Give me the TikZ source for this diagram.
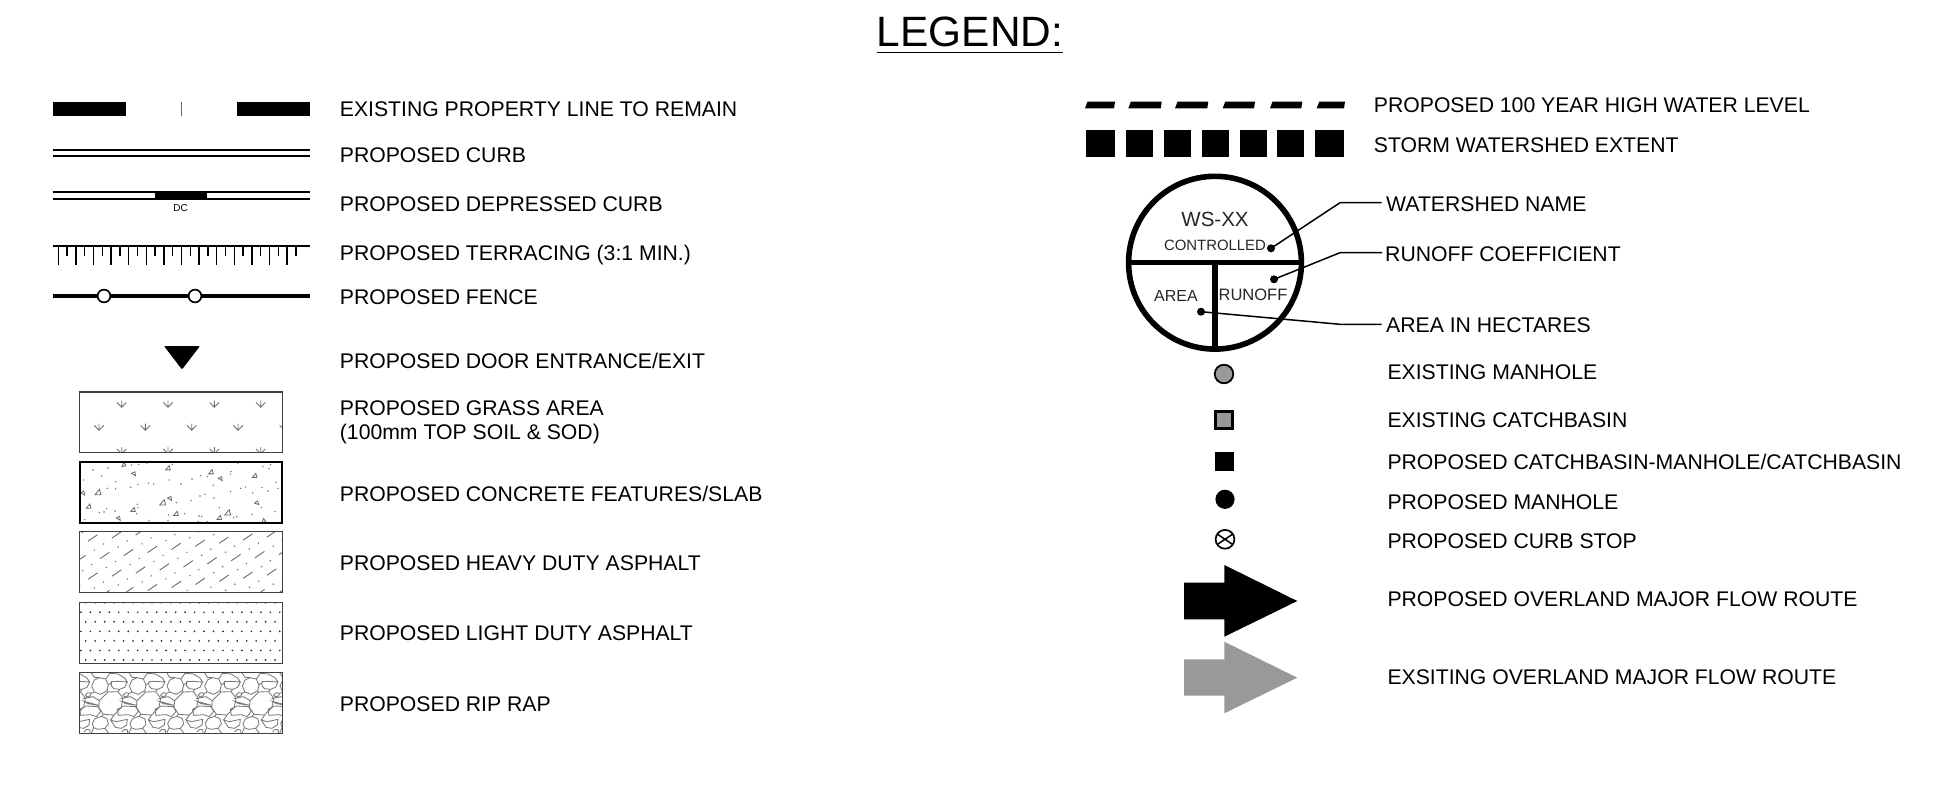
\documentclass[tikz,border=0pt]{standalone}
\usepackage{fontspec}
\setmainfont{Liberation Sans}
\definecolor{arrowgray}{HTML}{999999}
\definecolor{hatchgray}{HTML}{6A6A6A}
\definecolor{stonegray}{HTML}{7A7A7A}
\tikzset{
  lbl/.style={anchor=base west,inner sep=0pt,font=\fontsize{21.2}{25}\selectfont},
  leadlbl/.style={anchor=base west,inner ysep=0pt,inner xsep=4.3pt,font=\fontsize{21.2}{25}\selectfont},
  circtxt/.style={inner sep=0pt,text=black!85,font=\fontsize{16.5}{19}\selectfont},
  leaderdot/.style={circle,fill=black,inner sep=0pt,minimum size=8pt},
  leader/.style={line width=1.5pt},
  hatchbox/.style={draw=black!75,line width=1.2pt},
  fine/.style={draw=hatchgray,line width=0.8pt},
  finedot/.style={fill=hatchgray}
}
\begin{document}
\begin{tikzpicture}[x=1pt,y=-1pt]
\useasboundingbox (0,0) rectangle (1937,808);
% title
\node[anchor=base,inner sep=0pt,text depth=5pt,font=\fontsize{42.4}{48}\selectfont] (title) at (970,47) {LEGEND:};
\draw[line width=1.3pt] (title.south west) -- (title.south east);

% property line
\fill (52.7,102) rectangle (125.7,115.7);
\fill (236.7,102) rectangle (309.7,115.7);
\draw[black!60,line width=1pt] (181,102) -- (181,115.7);
% curb
\draw[line width=1.7pt] (52.7,150) -- (309.7,150) (52.7,156.3) -- (309.7,156.3);
% depressed curb
\draw[line width=1.7pt] (52.7,192.3) -- (309.7,192.3) (52.7,198.7) -- (309.7,198.7);
\fill (155,191.5) rectangle (207,199.5);
\node[inner sep=0pt,font=\fontsize{10}{12}\selectfont] (dc) at (180.5,207.7) {DC};
% terracing
\draw[line width=1.6pt] (52.7,245.7) -- (309.7,245.7);
\foreach \k in {0,...,13}{
  \draw[line width=1.5pt] ({58.3+17.6*\k},245.7) -- ({58.3+17.6*\k},265);
  \draw[line width=1.5pt] ({67.1+17.6*\k},245.7) -- ({67.1+17.6*\k},255.7);
}
% fence
\draw[line width=3.5pt] (52.7,296) -- (309.7,296);
\draw[line width=1.7pt,fill=white] (104,296) circle (6.4) (195,296) circle (6.4);
% door
\fill[rounded corners=1pt] (164,346) -- (200,346) -- (182,369.5) -- cycle;

% grass
\begin{scope}
\clip (79.7,392) rectangle (282.3,452.3);
\foreach \px/\py in {121.7/404,168/404,214.3/404,260.7/404,99/427,145.3/427,191.7/427,238/427,284.4/427,121.7/450.5,168/450.5,214.3/450.5,260.7/450.5}{
  \draw[draw=black!55,line width=0.9pt] (\px,\py-3.5) -- (\px,\py+3.2) (\px-4.7,\py-1.6) -- (\px,\py+3.2) -- (\px+4.7,\py-1.6);
}
\end{scope}
\draw[hatchbox] (79.7,392) rectangle (282.3,452.3);

% concrete
\begin{scope}[shift={(78,460)},x=0.3333pt,y=-0.3333pt]
\foreach \px/\py in {45/30,90/24,71/48,17/60,113/65,88/85,113/87,158/82,180/73,211/69,227/72,274/60,309/72,342/57,368/47,388/50,406/76,459/35,457/42,458/95,488/85,503/81,524/99,552/83,570/93,594/67,600/85,555/20,573/26,578/14,283/13,207/9,182/13,161/15,480/9,366/108,381/103,408/114,339/122,295/128,178/133,180/143,176/161,111/153,86/146,78/156,64/158,20/179,213/181,270/181,272/165,320/161,363/168,371/170,424/143,467/173,476/170,522/164,550/143,591/155,361/185,388/185}{
  \fill[finedot] (\px,\py) circle (2.4);
}
\foreach \px/\py/\r/\a in {137/14/6/10,167/42/6/100,270/24/7/0,399/36/7/0,427/57/6/100,530/47/7/0,14/100/6/100,60/97/9/0,32/139/7/0,165/149/7/0,121/176/6/100,254/128/9/0,275/116/6/100,294/161/7/0,424/173/7/0,449/158/9/0,536/130/6/110,556/182/6/20}{
  \draw[fine,rotate around={\a:(\px,\py)}] (\px-\r,\py+\r*0.8) -- (\px+\r,\py+\r*0.8) -- (\px+0.5*\r,\py-\r) -- cycle;
}
\end{scope}
\draw[line width=2.2pt] (79.7,461.7) rectangle (282.3,522.7);

% heavy asphalt
\begin{scope}
\clip (79.7,531.7) rectangle (282.3,592.7);
\foreach \i in {-4,...,9}{
  \foreach \j in {-2,...,4}{
    \coordinate (lat) at ({92.7+23.83*\i+12*\j},{538-3.07*\i+17.5*\j});
    \draw[fine,line width=0.9pt] ([shift={(-4.7,3.2)}]lat) -- ([shift={(4.7,-3.2)}]lat);
    \fill[finedot] ([shift={(10.7,6)}]lat) circle (0.8);
    \fill[finedot] ([shift={(1.7,12)}]lat) circle (0.8);
  }
}
\end{scope}
\draw[hatchbox] (79.7,531.7) rectangle (282.3,592.7);

% light asphalt
\begin{scope}
\clip (79.7,602.3) rectangle (282.3,663.3);
\foreach \r in {0,2,4,6}{
  \foreach \k in {0,...,21}{ \fill[black!85] ({85.7+9.47*\k},{602.7+9.55*\r}) circle (0.95); }
}
\foreach \r in {1,3,5}{
  \foreach \k in {0,...,21}{ \fill[black!85] ({80.9+9.47*\k},{602.7+9.55*\r}) circle (0.95); }
}
\end{scope}
\draw[hatchbox] (79.7,602.3) rectangle (282.3,663.3);

% rip rap
\begin{scope}
\clip (79.7,672.7) rectangle (282.3,733.3);
\foreach \i in {-1,...,5}{
\begin{scope}[shift={({78+37.67*\i},670)},x=0.3333pt,y=-0.3333pt]
  \draw[draw=stonegray,line width=0.85pt]
    (64,92) -- (90,66) -- (120,65) -- (135,84) -- (130,112) -- (108,135) -- (76,133) -- (62,112) -- cycle
    (41,48) -- (49,30) -- (65,23) -- (83,27) -- (91,45) -- (87,62) -- (68,73) -- (49,66) -- cycle
    (43,160) -- (51,146) -- (70,139) -- (87,146) -- (91,162) -- (81,175) -- (60,178) -- (47,173) -- cycle
    (100,35) -- (118,34) -- (148,36) -- (140,52) -- (125,58) -- (108,56) -- (100,48) -- cycle
    (40,8) -- (49,22) -- (65,23) (83,27) -- (95,10)
    (22,75) -- (30,68) -- (40,70) -- (36,78) -- (26,80) -- cycle
    (15,86) -- (45,80) -- (64,92) (62,106) -- (30,101) -- (18,94) -- cycle
    (5,118) -- (25,108) -- (60,110) -- (68,124) -- (55,140) -- (38,134) -- (8,136) -- cycle
    (98,150) -- (115,155) -- (148,148) -- (146,165) -- (130,175) -- (112,172) -- cycle
    (47,173) -- (40,190) (81,175) -- (92,190)
    (18,186) -- (26,178) -- (36,180) -- (36,190)
    (91,45) -- (100,38) (87,62) -- (90,66) (49,66) -- (40,70)
    (120,65) -- (125,58) (130,112) -- (118,120)
    (108,135) -- (98,150) (76,133) -- (70,139)
    (95,10) -- (120,12) -- (140,24) -- (148,36);
\end{scope}
}
\end{scope}
\draw[hatchbox] (79.7,672.7) rectangle (282.3,733.3);

% left labels
\node[lbl] (t1) at (339.7,116.2) {EXISTING PROPERTY LINE TO REMAIN};
\node[lbl] (t2) at (339.7,162.9) {PROPOSED CURB};
\node[lbl] (t3) at (339.7,211.3) {PROPOSED DEPRESSED CURB};
\node[lbl] (t4) at (339.7,260.1) {PROPOSED TERRACING (3:1 MIN.)};
\node[lbl] (t5) at (339.7,304) {PROPOSED FENCE};
\node[lbl] (t6) at (339.7,368.2) {PROPOSED DOOR ENTRANCE/EXIT};
\node[lbl] (t7a) at (339.7,415.1) {PROPOSED GRASS AREA};
\node[lbl] (t7b) at (339.7,439.9) {(100mm TOP SOIL \& SOD)};
\node[lbl] (t8) at (339.7,501) {PROPOSED CONCRETE FEATURES/SLAB};
\node[lbl] (t9) at (339.7,570.2) {PROPOSED HEAVY DUTY ASPHALT};
\node[lbl] (t10) at (339.7,640) {PROPOSED LIGHT DUTY ASPHALT};
\node[lbl] (t11) at (339.7,711) {PROPOSED RIP RAP};

% high water
\foreach \a/\b in {1085/1115,1128.3/1161.7,1175/1208.3,1222.7/1255,1270/1302.3,1316.7/1345}{
  \fill (\a,108.3) -- (\a+2.5,101.7) -- (\b,101.7) -- (\b-1,108.3) -- cycle;
}
% storm watershed
\foreach \a/\b in {1086/1115,1126/1152.7,1164/1190.7,1202/1228.7,1239.7/1266.7,1277.3/1304.3,1315.3/1344}{
  \fill (\a,130) rectangle (\b,156.7);
}
\node[lbl] (r1) at (1373.7,112.5) {PROPOSED 100 YEAR HIGH WATER LEVEL};
\node[lbl] (r2) at (1373.7,152) {STORM WATERSHED EXTENT};

% watershed symbol
\draw[line width=5.6pt] (1215,262.7) circle (86.4);
\draw[line width=5.5pt] (1128,262.7) -- (1302,262.7);
\draw[line width=5.5pt] (1215,262.7) -- (1215,349);
\node[inner sep=0pt,text=black!85,font=\fontsize{20.5}{24}\selectfont] (wsname) at (1215,219.3) {WS-XX};
\node[inner sep=0pt,text=black!85,font=\fontsize{14.9}{18}\selectfont] (ctrl) at (1215,245.7) {CONTROLLED};
\node[circtxt,font=\fontsize{16}{19}\selectfont] (area) at (1176,296) {AREA};
\node[circtxt] (runoff) at (1253,295.3) {RUNOFF};
\node[leaderdot] (d1) at (1271,248.3) {};
\node[leaderdot] (d2) at (1274,279.3) {};
\node[leaderdot] (d3) at (1201,311.7) {};
\node[leadlbl] (l1) at (1381.7,211.3) {WATERSHED NAME};
\node[leadlbl,inner xsep=3pt] (l2) at (1382,261.2) {RUNOFF COEFFICIENT};
\node[leadlbl] (l3) at (1381.7,332.4) {AREA IN HECTARES};
\coordinate (b1) at (1340,202.7);
\coordinate (b2) at (1340,252.7);
\coordinate (b3) at (1340,324.3);
\draw[leader] (d1.center) -- (b1) -- (b1 -| l1.west);
\draw[leader] (d2.center) -- (b2) -- (b2 -| l2.west);
\draw[leader] (d3.center) -- (b3) -- (b3 -| l3.west);

% point symbols
\draw[line width=1.8pt,fill=arrowgray] (1224,374) circle (9.3);
\draw[line width=3pt,fill=arrowgray] (1215.7,411.4) rectangle (1232.3,428);
\fill (1214.5,452.2) rectangle (1233.5,471.2);
\fill (1225,499.3) circle (9.6);
\draw[line width=1.7pt] (1225,539.3) circle (9.4);
\draw[line width=1.5pt] (1217.2,534) -- (1232.8,544.6) (1217.2,544.6) -- (1232.8,534);
% flow arrows
\fill (1184,582.7) -- (1224.3,582.7) -- (1224.3,565) -- (1297.3,601) -- (1224.3,636.7) -- (1224.3,619.3) -- (1184,619.3) -- cycle;
\fill[arrowgray] (1184,659.3) -- (1224.3,659.3) -- (1224.3,641.7) -- (1297.3,677.7) -- (1224.3,713.3) -- (1224.3,695.7) -- (1184,695.7) -- cycle;

% right labels
\node[lbl] (r3) at (1387.3,379.4) {EXISTING MANHOLE};
\node[lbl] (r4) at (1387.3,427.5) {EXISTING CATCHBASIN};
\node[lbl] (r5) at (1387.3,469.5) {PROPOSED CATCHBASIN-MANHOLE/CATCHBASIN};
\node[lbl] (r6) at (1387.3,509) {PROPOSED MANHOLE};
\node[lbl] (r7) at (1387.3,548.7) {PROPOSED CURB STOP};
\node[lbl] (r8) at (1387.3,606.5) {PROPOSED OVERLAND MAJOR FLOW ROUTE};
\node[lbl] (r9) at (1387.3,684.5) {EXSITING OVERLAND MAJOR FLOW ROUTE};
\end{tikzpicture}
\end{document}
